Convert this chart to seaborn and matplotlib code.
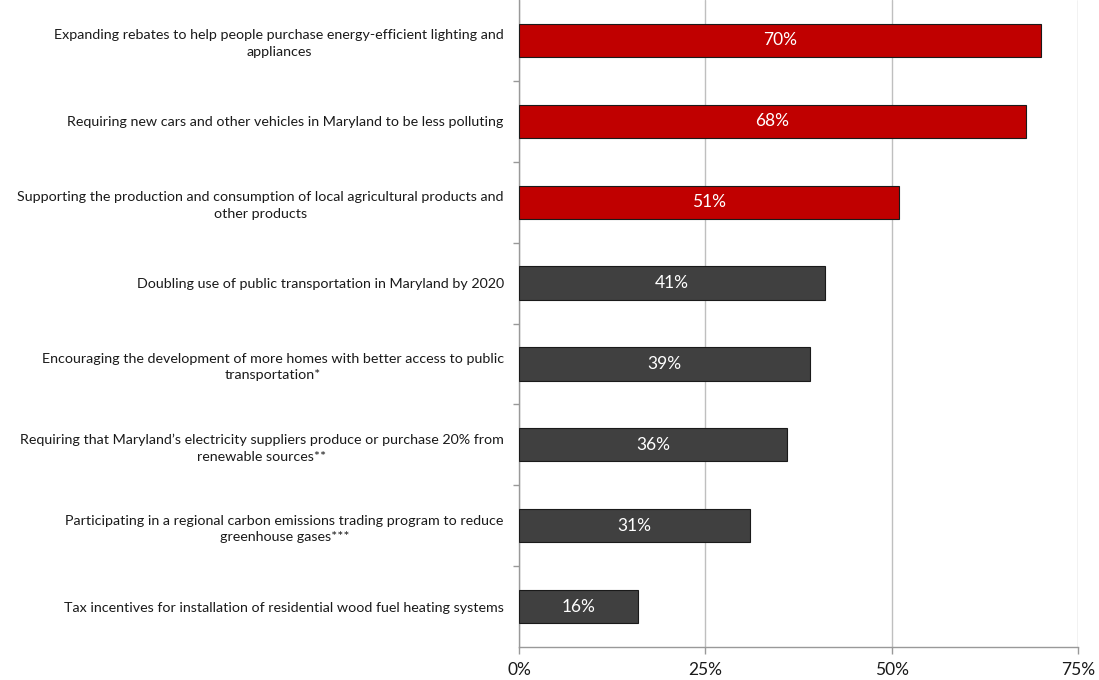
import matplotlib
matplotlib.use("Agg")
import matplotlib.pyplot as plt
from matplotlib.ticker import FixedLocator, PercentFormatter
import seaborn as sns
import pandas as pd

policies = [
    "Expanding rebates to help people purchase energy-efficient lighting and\nappliances",
    "Requiring new cars and other vehicles in Maryland to be less polluting",
    "Supporting the production and consumption of local agricultural products and\nother products",
    "Doubling use of public transportation in Maryland by 2020",
    "Encouraging the development of more homes with better access to public\ntransportation*",
    "Requiring that Maryland\u2019s electricity suppliers produce or purchase 20% from\nrenewable sources**",
    "Participating in a regional carbon emissions trading program to reduce\ngreenhouse gases***",
    "Tax incentives for installation of residential wood fuel heating systems",
]
support = [70, 68, 51, 41, 39, 36, 31, 16]
groups = ["top", "top", "top", "other", "other", "other", "other", "other"]
x_ticks = [0, 25, 50, 75]

group_colors = {"top": "#C00000", "other": "#404040"}

df = pd.DataFrame({"policy": policies, "support": support, "group": groups})

sns.set_theme(style="white")
plt.rcParams["font.family"] = ["Lato", "DejaVu Sans"]

fig = plt.figure(figsize=(10.99, 6.8), dpi=100)
ax = fig.add_axes([519 / 1099, 1 - 647 / 680, (1078 - 519) / 1099, 647 / 680])

sns.barplot(data=df, y="policy", x="support", hue="group", palette=group_colors,
            saturation=1, dodge=False, width=0.41, edgecolor="#1a1a1a",
            linewidth=0.8, legend=False, ax=ax, zorder=3)

# value labels centred inside each bar
for i, val in enumerate(support):
    ax.text(val / 2, i, f"{val}%", ha="center", va="center", color="white",
            fontsize=12.5, zorder=4)

ax.set_xlim(0, 75)
ax.set_ylim(len(policies) - 0.5, -0.5)
ax.xaxis.set_major_locator(FixedLocator(x_ticks))
ax.xaxis.set_major_formatter(PercentFormatter(decimals=0))
ax.grid(axis="x", color="#bfbfbf", linewidth=1, zorder=0)
ax.grid(axis="y", visible=False)

ax.set_xlabel("")
ax.set_ylabel("")
for side in ["top", "right"]:
    ax.spines[side].set_visible(False)
for side in ["left", "bottom"]:
    ax.spines[side].set_color("#999999")
    ax.spines[side].set_linewidth(1)

ax.tick_params(axis="x", which="major", bottom=True, length=5, width=1,
               color="#999999", labelsize=12.5, labelcolor="#1a1a1a", pad=6)
ax.tick_params(axis="y", which="major", left=False, labelsize=10.3,
               labelcolor="#1a1a1a", pad=5)
ax.yaxis.set_minor_locator(FixedLocator([i + 0.5 for i in range(len(policies) - 1)]))
ax.tick_params(axis="y", which="minor", left=True, length=4, width=1, color="#999999")
for lbl in ax.get_yticklabels():
    lbl.set_multialignment("center")
    lbl.set_linespacing(1.45)

fig.savefig("out.png", dpi=100)
